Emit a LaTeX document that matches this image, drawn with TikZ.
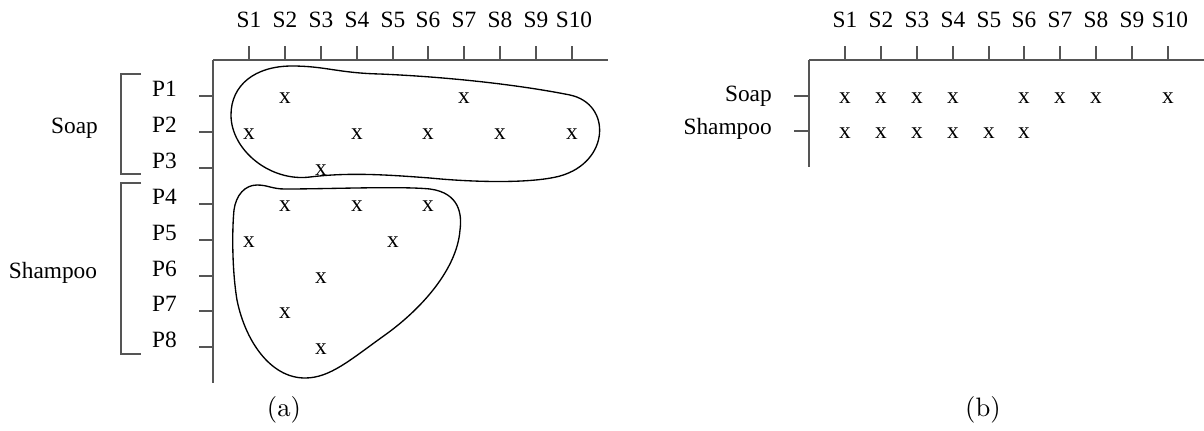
\documentclass[tikz,border=0pt]{standalone}
\usepackage{fontspec}
\usepackage{tikz}
\newfontfamily\tmsfont{Liberation Serif}

\begin{document}
\begin{tikzpicture}[x=0.75pt,y=0.75pt,yscale=-1,xscale=1,
    txt/.style={inner sep=0pt,anchor=base,font=\tmsfont\fontsize{17.5}{21}\selectfont},
    capt/.style={inner sep=0pt,anchor=base,scale=2,font=\fontsize{10}{12}\selectfont},
    axline/.style={color={rgb, 255:red, 85; green, 85; blue, 85},line width=1pt},
    blob/.style={line width=1pt}]
\useasboundingbox (0,0) rectangle (1204,430);
%%%%% (a) products x stores
%Straight Lines (axes)
\draw [axline] (213,60) -- (608,60) ;
\draw [axline] (213,60) -- (213,383) ;
%Straight Lines (store ticks)
\draw [axline] (249,46) -- (249,60) ;  \draw [axline] (285,46) -- (285,60) ;
\draw [axline] (321,46) -- (321,60) ;  \draw [axline] (357,46) -- (357,60) ;
\draw [axline] (393,46) -- (393,60) ;  \draw [axline] (428,46) -- (428,60) ;
\draw [axline] (464,46) -- (464,60) ;  \draw [axline] (500,46) -- (500,60) ;
\draw [axline] (536,46) -- (536,60) ;  \draw [axline] (572,46) -- (572,60) ;
%Straight Lines (product ticks)
\draw [axline] (199,96) -- (213,96) ;  \draw [axline] (199,132) -- (213,132) ;
\draw [axline] (199,168) -- (213,168) ;  \draw [axline] (199,204) -- (213,204) ;
\draw [axline] (199,240) -- (213,240) ;  \draw [axline] (199,276) -- (213,276) ;
\draw [axline] (199,311) -- (213,311) ;  \draw [axline] (199,347) -- (213,347) ;
%Shape: Brackets
\draw [axline] (141,74) -- (121,74) -- (121,174) -- (141,174) ;
\draw [axline] (141,183) -- (121,183) -- (121,354) -- (141,354) ;
% Text Node
\node [txt] (sa1) at (249,27) {S1};  \node [txt] (sa2) at (285,27) {S2};
\node [txt] (sa3) at (321,27) {S3};  \node [txt] (sa4) at (357,27) {S4};
\node [txt] (sa5) at (393,27) {S5};  \node [txt] (sa6) at (428,27) {S6};
\node [txt] (sa7) at (464,27) {S7};  \node [txt] (sa8) at (500,27) {S8};
\node [txt] (sa9) at (536,27) {S9};  \node [txt] (sa10) at (574,27) {S10};
% Text Node
\node [txt] (p1) at (164.5,96) {P1};  \node [txt] (p2) at (164.5,132) {P2};
\node [txt] (p3) at (164.5,168) {P3};  \node [txt] (p4) at (164.5,204) {P4};
\node [txt] (p5) at (164.5,240) {P5};  \node [txt] (p6) at (164.5,276) {P6};
\node [txt] (p7) at (164.5,311) {P7};  \node [txt] (p8) at (164.5,347) {P8};
% Text Node
\node [txt] (soapa) at (74.5,133) {Soap};
\node [txt] (shampooa) at (53,278) {Shampoo};
% Text Node (sales)
\node [txt] (xa12) at (285,103) {x};  \node [txt] (xa17) at (464,103) {x};
\node [txt] (xa21) at (249,139) {x};  \node [txt] (xa24) at (357,139) {x};
\node [txt] (xa26) at (428,139) {x};  \node [txt] (xa28) at (500,139) {x};
\node [txt] (xa210) at (572,139) {x};
\node [txt] (xa33) at (321,175) {x};
\node [txt] (xa42) at (285,211) {x};  \node [txt] (xa44) at (357,211) {x};
\node [txt] (xa46) at (428,211) {x};
\node [txt] (xa51) at (249,247) {x};  \node [txt] (xa55) at (393,247) {x};
\node [txt] (xa63) at (321,283) {x};
\node [txt] (xa72) at (285,318) {x};
\node [txt] (xa83) at (321,354) {x};
%Curve Lines (soap cluster)
\draw [blob] (292,66) .. controls (325,66) and (338,73) .. (380,74) .. controls (450,77) and (520,85) .. (570,95) .. controls (612,104) and (610,162) .. (560,176) .. controls (530,184) and (470,182) .. (430,178) .. controls (390,175) and (350,172) .. (310,177) .. controls (270,182) and (231,150) .. (231,115) .. controls (231,85) and (255,66) .. (292,66) -- cycle ;
%Curve Lines (shampoo cluster)
\draw [blob] (257,185) .. controls (268,185) and (272,189) .. (285,189) .. controls (330,189) and (400,186) .. (430,189) .. controls (460,193) and (462,215) .. (460,230) .. controls (457,270) and (420,310) .. (385,335) .. controls (350,360) and (330,378) .. (305,378) .. controls (270,378) and (245,340) .. (237,300) .. controls (232,270) and (232,230) .. (234,210) .. controls (236,195) and (245,185) .. (257,185) -- cycle ;
% Text Node
\node [capt] (capa) at (284,416) {(a)};
%%%%% (b) categories x stores
%Straight Lines (axes)
\draw [axline] (809,60) -- (1204,60) ;
\draw [axline] (809,60) -- (809,167) ;
%Straight Lines (store ticks)
\draw [axline] (845,46) -- (845,60) ;  \draw [axline] (881,46) -- (881,60) ;
\draw [axline] (917,46) -- (917,60) ;  \draw [axline] (953,46) -- (953,60) ;
\draw [axline] (989,46) -- (989,60) ;  \draw [axline] (1024,46) -- (1024,60) ;
\draw [axline] (1060,46) -- (1060,60) ;  \draw [axline] (1096,46) -- (1096,60) ;
\draw [axline] (1132,46) -- (1132,60) ;  \draw [axline] (1168,46) -- (1168,60) ;
%Straight Lines (category ticks)
\draw [axline] (794,96) -- (809,96) ;  \draw [axline] (794,131) -- (809,131) ;
% Text Node
\node [txt] (sb1) at (845,27) {S1};  \node [txt] (sb2) at (881,27) {S2};
\node [txt] (sb3) at (917,27) {S3};  \node [txt] (sb4) at (953,27) {S4};
\node [txt] (sb5) at (989,27) {S5};  \node [txt] (sb6) at (1024,27) {S6};
\node [txt] (sb7) at (1060,27) {S7};  \node [txt] (sb8) at (1096,27) {S8};
\node [txt] (sb9) at (1132,27) {S9};  \node [txt] (sb10) at (1170,27) {S10};
% Text Node
\node [txt,anchor=base east] (soapb) at (772,101) {Soap};
\node [txt,anchor=base east] (shampoob) at (772,134) {Shampoo};
% Text Node (sales)
\node [txt] (xb11) at (845,103) {x};  \node [txt] (xb12) at (881,103) {x};
\node [txt] (xb13) at (917,103) {x};  \node [txt] (xb14) at (953,103) {x};
\node [txt] (xb16) at (1024,103) {x};  \node [txt] (xb17) at (1060,103) {x};
\node [txt] (xb18) at (1096,103) {x};  \node [txt] (xb110) at (1168,103) {x};
\node [txt] (xb21) at (845,138) {x};  \node [txt] (xb22) at (881,138) {x};
\node [txt] (xb23) at (917,138) {x};  \node [txt] (xb24) at (953,138) {x};
\node [txt] (xb25) at (989,138) {x};  \node [txt] (xb26) at (1024,138) {x};
% Text Node
\node [capt] (capb) at (983,416) {(b)};
\end{tikzpicture}
\end{document}
